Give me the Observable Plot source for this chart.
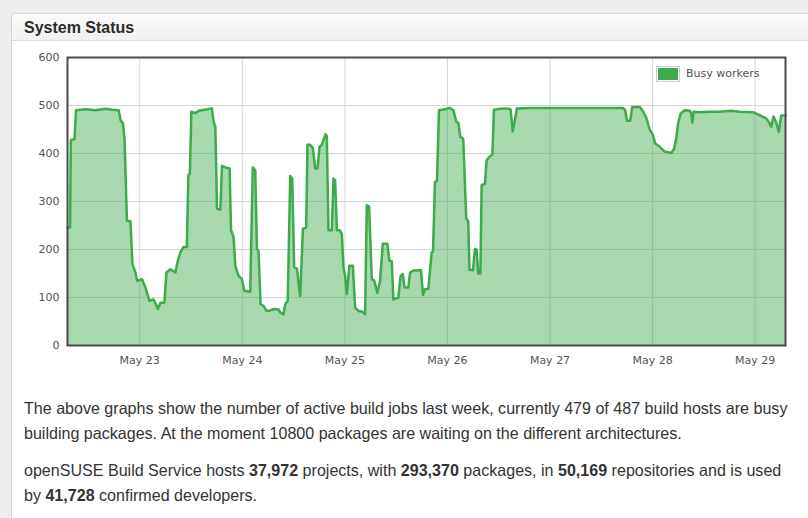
<!DOCTYPE html>
<html>
<head>
<meta charset="utf-8">
<script src="https://cdn.jsdelivr.net/npm/d3@7"></script>
<script src="https://cdn.jsdelivr.net/npm/@observablehq/plot@0.6"></script>
<style>
  html, body { margin: 0; padding: 0; }
  body { width: 808px; height: 518px; overflow: hidden; background: #eeeeee; position: relative; font-family: "Liberation Sans", Arial, sans-serif; }
  .panel { position: absolute; left: 11px; top: 13px; width: 830px; height: 540px; background: #fff; border: 1px solid #d6d6d6; border-radius: 4px; }
  .header { height: 26px; line-height: 27px; padding-left: 12px; font-weight: bold; font-size: 16px; color: #2b2b2b; background: linear-gradient(#fbfbfb, #f1f1f1); border-bottom: 1px solid #dcdcdc; border-radius: 4px 4px 0 0; }
  #chart { position: absolute; left: 0; top: 40px; }
  .legend { position: absolute; left: 656px; top: 66px; font-family: "DejaVu Sans", sans-serif; font-size: 11px; color: #545454; }
  .legend .sw { position: absolute; left: 0; top: 0; width: 20px; height: 12px; border: 1px solid #cfcfcf; padding: 1px; }
  .legend .sw div { width: 20px; height: 12px; background: #3daa4b; }
  .legend .lab { position: absolute; left: 30px; top: 1px; white-space: nowrap; line-height: 14px; }
  .text { position: absolute; left: 24px; top: 396px; font-size: 16px; line-height: 24.5px; color: #333; white-space: nowrap; }
  .text p { margin: 0 0 13px 0; }
</style>
</head>
<body>
<div class="panel"><div class="header">System Status</div></div>
<div id="chart"></div>
<div class="legend"><div class="sw"><div></div></div><div class="lab">Busy workers</div></div>
<div class="text">
  <p><span id="l1">The above graphs show the number of active build jobs last week, currently 479 of 487 build hosts are busy</span><br>building packages. At the moment 10800 packages are waiting on the different architectures.</p>
  <p>openSUSE Build Service hosts <b>37,972</b> projects, with <b>293,370</b> packages, in <b>50,169</b> repositories and is used<br>by <b>41,728</b> confirmed developers.</p>
</div>
<script>
// hours since May 22, 00:00 (UTC)
const hours = [7.1, 7.69, 7.88, 8.74, 9.09, 11.31, 13.65, 15.99, 17.62, 19.09,
  19.49, 20.08, 20.43, 21.01, 21.83, 22.29, 23.00, 23.39, 24.56, 25.33,
  26.27, 27.20, 27.79, 28.25, 28.84, 29.77, 30.24, 31.17, 32.34, 32.93,
  33.51, 34.21, 35.03, 35.38, 35.73, 36.08, 37.01, 37.83, 39.82, 40.87,
  41.29, 41.69, 42.08, 42.86, 43.25, 44.02, 45.03, 45.36, 45.96, 46.36,
  47.13, 47.92, 48.46, 49.86, 50.45, 51.03, 51.43, 51.80, 52.27, 53.02,
  53.67, 54.54, 55.35, 56.48, 56.87, 57.64, 58.04, 58.63, 59.21, 59.68,
  60.14, 60.78, 61.55, 62.18, 62.95, 63.25, 63.88, 64.51, 65.05, 65.59,
  66.06, 66.62, 66.99, 67.46, 67.78, 68.16, 68.95, 69.33, 69.72, 70.12,
  70.73, 71.29, 71.66, 72.06, 72.46, 73.06, 73.86, 74.40, 75.17, 75.96,
  76.73, 77.13, 77.67, 78.30, 78.84, 79.61, 80.24, 80.87, 81.94, 82.41,
  82.97, 83.35, 84.51, 85.03, 85.54, 85.96, 86.85, 87.25, 88.02, 89.82,
  90.28, 90.75, 91.52, 92.31, 92.62, 93.09, 93.55, 94.02, 95.42, 96.48,
  97.41, 98.04, 98.58, 99.00, 99.70, 100.40, 100.87, 101.15, 101.97, 102.43,
  102.83, 103.20, 103.72, 104.00, 104.77, 105.17, 105.94, 106.52, 106.87, 108.27,
  109.84, 110.77, 111.26, 111.78, 112.25, 115.28, 122.29, 129.30, 133.97, 137.13,
  137.60, 138.02, 138.76, 139.23, 140.98, 141.75, 142.50, 142.92, 143.32, 144.02,
  144.61, 145.66, 146.82, 148.39, 149.04, 149.51, 149.98, 150.56, 151.50, 152.67,
  153.02, 153.30, 153.60, 155.00, 157.34, 159.68, 162.41, 164.35, 167.46, 169.02,
  170.59, 171.12, 171.75, 172.29, 172.92, 173.53, 174.09, 175.1];

const busyWorkers = [246, 246, 428, 430, 490, 492, 490, 493, 491, 490,
  470, 463, 432, 260, 259, 170, 152, 135, 138, 121,
  93, 96, 86, 76, 89, 89, 152, 159, 152, 177,
  194, 205, 205, 355, 358, 487, 484, 489, 492, 494,
  466, 456, 285, 283, 374, 371, 369, 240, 226, 166,
  145, 138, 114, 112, 371, 365, 201, 196, 86, 82,
  72, 73, 76, 75, 69, 65, 86, 93, 353, 348,
  163, 160, 103, 243, 246, 418, 418, 411, 369, 369,
  414, 418, 428, 440, 436, 240, 240, 348, 344, 240,
  240, 233, 163, 145, 107, 166, 166, 79, 72, 71,
  65, 292, 290, 138, 136, 110, 135, 212, 212, 177,
  175, 96, 100, 145, 149, 121, 121, 152, 156, 157,
  105, 117, 118, 194, 196, 341, 343, 490, 492, 495,
  490, 467, 463, 435, 430, 265, 258, 158, 157, 201,
  200, 150, 150, 334, 337, 386, 394, 398, 491, 493,
  494, 492, 446, 470, 494, 495, 495, 495, 495, 495,
  490, 468, 468, 497, 497, 488, 475, 462, 450, 440,
  421, 414, 404, 401, 410, 430, 463, 483, 490, 489,
  484, 464, 487, 486, 487, 487, 489, 487, 486, 480,
  473, 467, 456, 477, 465, 445, 479, 479];

const dayLabels = ["May 23", "May 24", "May 25", "May 26", "May 27", "May 28", "May 29"];
const dayOffsets = [1, 2, 3, 4, 5, 6, 7]; // days after May 22
const yTicks = [0, 100, 200, 300, 400, 500, 600];
const seriesName = "Busy workers";

const base = Date.UTC(2014, 4, 22);
const toDate = h => new Date(base + h * 3600e3);
const data = hours.map((h, i) => ({ t: toDate(h), v: busyWorkers[i] }));
const dayTicks = dayOffsets.map(d => toDate(d * 24));
const labelOf = new Map(dayTicks.map((d, i) => [+d, dayLabels[i]]));

const green = "#3daa4b";

const chart = Plot.plot({
  width: 808,
  height: 340,
  marginLeft: 67,
  marginRight: 23,
  marginTop: 17,
  marginBottom: 35,
  style: { fontFamily: '"DejaVu Sans", sans-serif', fontSize: "11px", color: "#545454", background: "transparent" },
  x: { type: "utc", domain: [toDate(hours[0]), toDate(hours[hours.length - 1])], ticks: dayTicks, tickFormat: d => labelOf.get(+d), tickSize: 0, tickPadding: 11, label: null },
  y: { domain: [0, 600], ticks: yTicks, tickSize: 0, tickPadding: 8, label: null },
  marks: [
    Plot.gridX(dayTicks, { stroke: "#d6d6d6", strokeOpacity: 1 }),
    Plot.gridY(yTicks, { stroke: "#d6d6d6", strokeOpacity: 1 }),
    Plot.areaY(data, { x: "t", y: "v", fill: green, fillOpacity: 0.45 }),
    Plot.lineY(data, { x: "t", y: "v", stroke: green, strokeWidth: 2.5, strokeLinejoin: "round" }),
    Plot.frame({ stroke: "#4a4a4a", strokeWidth: 2 })
  ]
});
document.getElementById("chart").appendChild(chart);
document.querySelector(".legend .lab").textContent = seriesName;

// fit paragraph font so the first line spans the same width as in the reference
const textBox = document.querySelector(".text");
const w = document.getElementById("l1").getBoundingClientRect().width;
if (w > 0) textBox.style.fontSize = (16 * 764 / w).toFixed(2) + "px";
</script>
</body>
</html>
